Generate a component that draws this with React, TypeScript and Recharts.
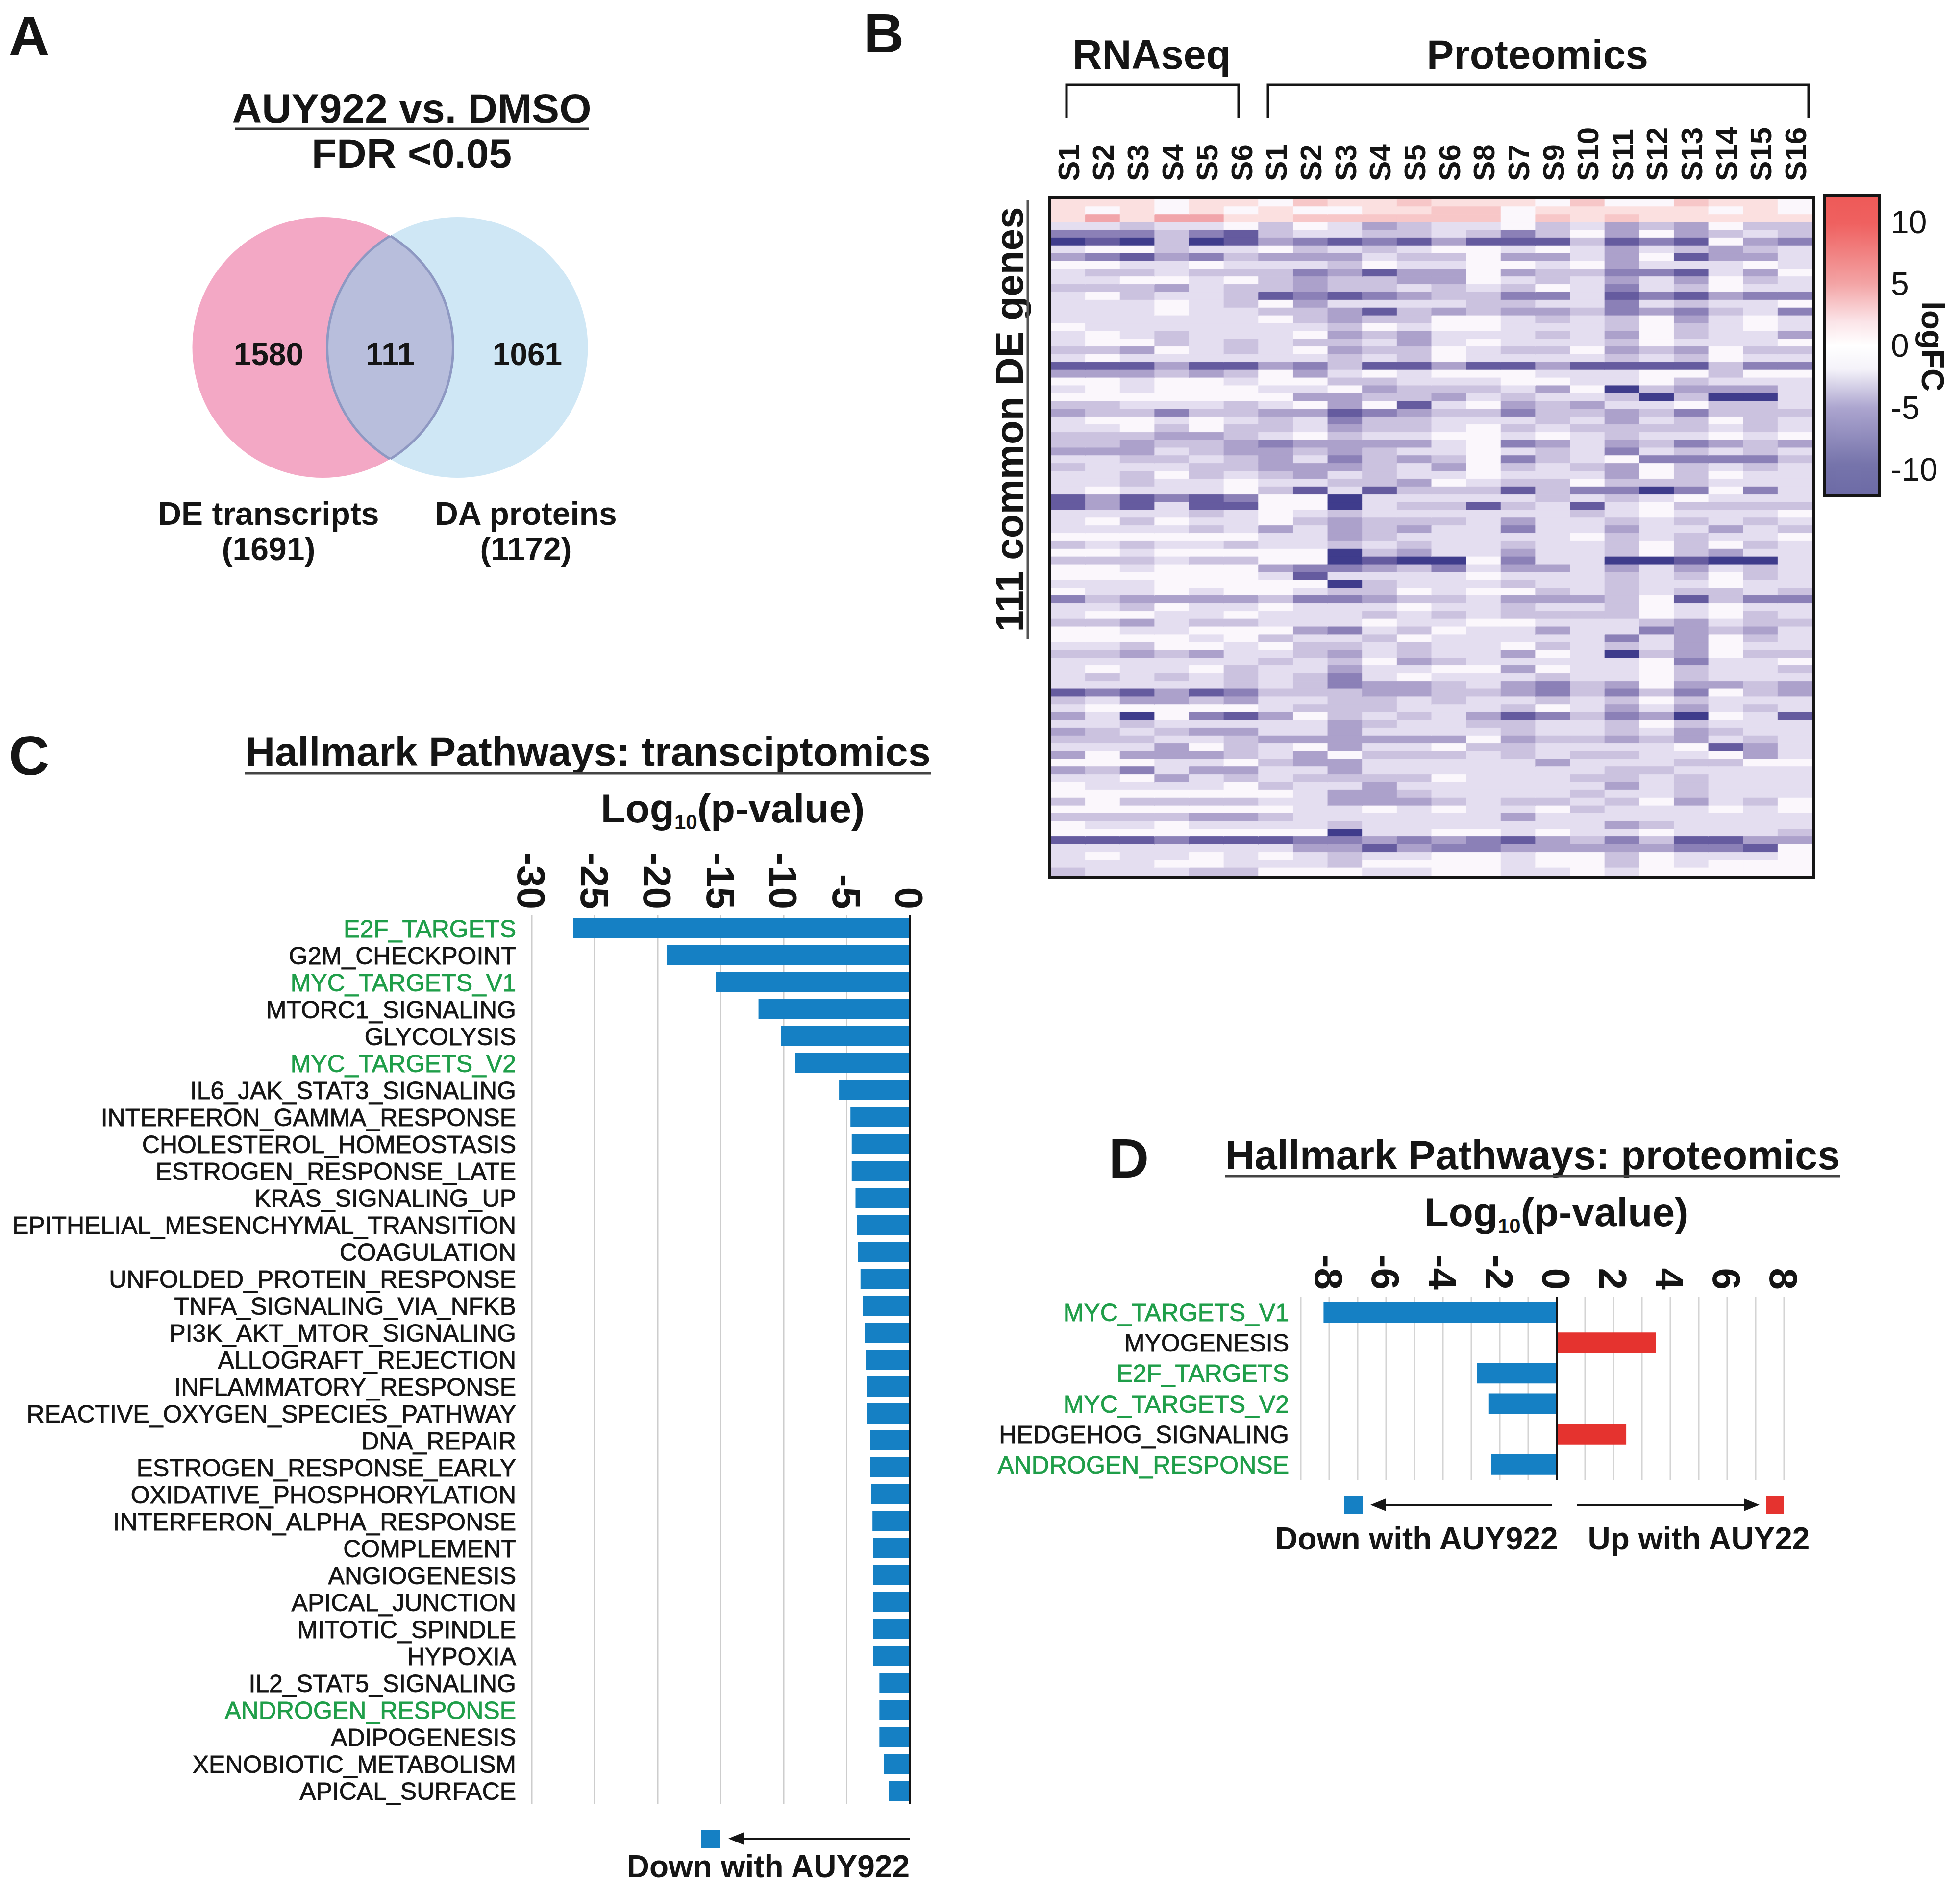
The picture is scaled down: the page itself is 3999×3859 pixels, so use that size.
import React from 'react';
import {
  BarChart,
  Bar,
  XAxis,
  YAxis,
  CartesianGrid,
  Cell,
  ReferenceLine,
  ScatterChart,
  Scatter,
} from 'recharts';

const FONT = '"Liberation Sans", Arial, Helvetica, sans-serif';
const INK = '#151515';
const GREEN = '#1f9e49';
const BLUE = '#1580c4';
const RED = '#e5332f';

// ---- panel A: venn counts
const vennSets = ['DE transcripts', 'DA proteins'];
const vennTotals = [1691, 1172];
const vennOnly = [1580, 1061];
const vennShared = 111;

// ---- panel B: heatmap (one string per gene row, one char per sample)
// 0 = ~0 logFC, 1..6 = increasingly negative, a..c = increasingly positive
const rnaCols = ['S1', 'S2', 'S3', 'S4', 'S5', 'S6'];
const protCols = ['S1', 'S2', 'S3', 'S4', 'S5', 'S6', 'S8', 'S7', 'S9', 'S10', 'S11', 'S12', 'S13', 'S14', 'S15', 'S16'];
const heatRows = [
  'aaa0aa0baabaaa0b00baa0', 'a0a0a0a00aabb0aaaaa0a0', 'acaccaabbbbbb0babaaaaa', '1121102013211021323022',
  '4442452112212420303212', '6562653454535552545034', '1002110212100101312321', '3453423331220331305331',
  '0011011120110010311101', '1221222435330322445130', '1100102322330121313021', '2223122322121201412011',
  '1021125454322441545344', '1110120311112211412110', '1110112235232332434214', '1111110232200121203101',
  '0111111120100111202101', '1012111032311121302113', '1002121221310111201110', '2230121032201220323022',
  '1011111121201111212011', '5553553425535535555244', '3332320310100011100200', '0010010022111001102111',
  '1010001103222130623331', '0000000332231211262661', '2211121030510323110221', '3224223354322422324222',
  '1001012142211121312021', '1102022132210212222121', '2223321021100101211010', '2232234333310431324323',
  '3331233232110121412121', '1122123142320421044442', '2111223332130212302121', '1120212312110111302011',
  '1121101122301220222111', '1011102515222524464041', '5354540061111121210111', '5351550061225215102222',
  '1111210121111112101110', '1020110232221311212121', '1111213132311411311312', '0000001132111110212110',
  '2121121121211211202021', '0010000062311311202311', '2221220065660411665661', '0010003443241331313121',
  '0000001511110111212021', '1110000062111211211011', '0110100122010021212212', '4233332443221333205244',
  '1120110111011211201011', '1001101112121222201021', '2231221110110011123122', '0011000341201131143231',
  '0000102112011111413021', '1120010221211021213011', '2232311231211301623022', '1111112120321111104110',
  '1011021131100301102112', '1212121241011121102111', '1111121243321342303323', '5453542223322342424023',
  '2133231122121121202111', '1000001222111201313121', '3160453021213542436015', '1121111132112211202111',
  '3212331131111211213211', '2221123333330322323121', '1113021031102211110531', '3033321302221212211031',
  '0001102331111131112200', '3241331131111111221111', '1103121222201112212111', '0111102113111111312111',
  '0000000133211112112111', '2022221133321221203120', '0000000110101102111010', '2222332111111311111111',
  '0110111121111111321111', '0000000061100101101112', '5554555443434532425533', '1111111335344333334450',
  '1011010121100100201110', '1110011120000100201000', '2111220001100110100000',
];
const levelFC: Record<string, number> = {
  '0': 0, '1': -1.5, '2': -3, '3': -4.5, '4': -6, '5': -8, '6': -10, a: 2, b: 3.5, c: 5,
};
const colorbarTicks = [-10, -5, 0, 5, 10];

// ---- panel C: transcriptomics hallmark pathways
const transPathways = [
  'E2F_TARGETS', 'G2M_CHECKPOINT', 'MYC_TARGETS_V1', 'MTORC1_SIGNALING', 'GLYCOLYSIS', 'MYC_TARGETS_V2',
  'IL6_JAK_STAT3_SIGNALING', 'INTERFERON_GAMMA_RESPONSE', 'CHOLESTEROL_HOMEOSTASIS', 'ESTROGEN_RESPONSE_LATE',
  'KRAS_SIGNALING_UP', 'EPITHELIAL_MESENCHYMAL_TRANSITION', 'COAGULATION', 'UNFOLDED_PROTEIN_RESPONSE',
  'TNFA_SIGNALING_VIA_NFKB', 'PI3K_AKT_MTOR_SIGNALING', 'ALLOGRAFT_REJECTION', 'INFLAMMATORY_RESPONSE',
  'REACTIVE_OXYGEN_SPECIES_PATHWAY', 'DNA_REPAIR', 'ESTROGEN_RESPONSE_EARLY', 'OXIDATIVE_PHOSPHORYLATION',
  'INTERFERON_ALPHA_RESPONSE', 'COMPLEMENT', 'ANGIOGENESIS', 'APICAL_JUNCTION', 'MITOTIC_SPINDLE', 'HYPOXIA',
  'IL2_STAT5_SIGNALING', 'ANDROGEN_RESPONSE', 'ADIPOGENESIS', 'XENOBIOTIC_METABOLISM', 'APICAL_SURFACE',
];
const transLogP = [
  -26.7, -19.3, -15.4, -12.0, -10.2, -9.1, -5.6, -4.7, -4.6, -4.6, -4.3, -4.2, -4.1, -3.9, -3.7, -3.55, -3.5,
  -3.4, -3.4, -3.15, -3.15, -3.05, -2.95, -2.9, -2.9, -2.9, -2.9, -2.9, -2.4, -2.4, -2.4, -2.05, -1.65,
];
const transTicks = [-30, -25, -20, -15, -10, -5, 0];

// ---- panel D: proteomics hallmark pathways
const protPathways = ['MYC_TARGETS_V1', 'MYOGENESIS', 'E2F_TARGETS', 'MYC_TARGETS_V2', 'HEDGEHOG_SIGNALING', 'ANDROGEN_RESPONSE'];
const protLogP = [-8.2, 3.5, -2.8, -2.4, 2.45, -2.3];
const protTicks = [-9, -8, -7, -6, -5, -4, -3, -2, -1, 0, 1, 2, 3, 4, 5, 6, 7, 8];

const greenPathways = ['E2F_TARGETS', 'MYC_TARGETS_V1', 'MYC_TARGETS_V2', 'ANDROGEN_RESPONSE'];

// ---- colour scale for the heatmap
const negStops: Array<[number, string]> = [
  [0, '#fbf7fc'], [1.5, '#e4def0'], [3, '#cbc2df'], [4.5, '#aca1cb'], [6, '#8b80b7'], [8, '#655b9f'], [10, '#3f3c8c'],
];
const posStops: Array<[number, string]> = [[0, '#fbf7fc'], [2, '#fbe0e0'], [3.5, '#f7c7c8'], [5, '#f1a5aa']];

const rgb = (h: string) => [1, 3, 5].map((i) => parseInt(h.slice(i, i + 2), 16));
function fcColor(v: number) {
  const stops = v >= 0 ? posStops : negStops;
  const a = Math.abs(v);
  for (let i = 1; i < stops.length; i++) {
    const [v0, c0] = stops[i - 1];
    const [v1, c1] = stops[i];
    if (a <= v1) {
      const t = (a - v0) / (v1 - v0);
      const p = rgb(c0);
      const q = rgb(c1);
      return `rgb(${p.map((x, k) => Math.round(x + (q[k] - x) * t)).join(',')})`;
    }
  }
  return stops[stops.length - 1][1];
}

// ---- layout (px)
const HX = 2144, HY = 406, HW = 1554, HH = 1381;
const VENN_W = 1100, VENN_UNIT = VENN_W / 4, VENN_R = 266;

const allCols = [...rnaCols, ...protCols];
const heatData = heatRows.map((r, i) => {
  const o: Record<string, number | string> = { row: `g${i}` };
  allCols.forEach((_, j) => { o[`c${j}`] = 1; });
  return o;
});
const vennData = vennSets.map((name, idx) => ({ name, idx, y: 0 }));
const transData = transPathways.map((name, i) => ({ name, value: transLogP[i] }));
const protData = protPathways.map((name, i) => ({ name, value: protLogP[i] }));

const VennShape = (props: any) => {
  const { cx, cy, payload } = props;
  if (payload.idx === 0) {
    return <circle cx={cx} cy={cy} r={VENN_R} fill="#f3a8c5" />;
  }
  const px = cx - VENN_UNIT;
  return (
    <g>
      <defs>
        <clipPath id="vennPink">
          <circle cx={px} cy={cy} r={VENN_R} />
        </clipPath>
        <clipPath id="vennBlue">
          <circle cx={cx} cy={cy} r={VENN_R} />
        </clipPath>
      </defs>
      <circle cx={cx} cy={cy} r={VENN_R} fill="#cfe7f5" />
      <circle cx={cx} cy={cy} r={VENN_R} fill="#b8bedc" stroke="#8e98c2" strokeWidth={5} clipPath="url(#vennPink)" />
      <circle cx={px} cy={cy} r={VENN_R} fill="none" stroke="#8e98c2" strokeWidth={5} clipPath="url(#vennBlue)" />
    </g>
  );
};

const RotTick = (props: any) => {
  const { x, y, payload, fs, every } = props;
  if (every && payload.value % every !== 0) return <g />;
  return (
    <text x={x} y={y} transform={`rotate(90 ${x} ${y})`} textAnchor="end" dy="0.36em"
      fontSize={fs} fontWeight="bold" fontFamily={FONT} fill={INK}>
      {payload.value}
    </text>
  );
};

const CatTick = (props: any) => {
  const { x, y, payload, fs } = props;
  const c = greenPathways.includes(payload.value) ? GREEN : INK;
  return (
    <text x={x} y={y} textAnchor="end" dy="0.36em" fontSize={fs} fontFamily={FONT}
      fill={c} stroke={c} strokeWidth={0.9}>
      {payload.value}
    </text>
  );
};

const T = (p: any) => (
  <text fontFamily={FONT} fontWeight="bold" fill={INK} {...p} />
);

const LogLabel = ({ x, y }: { x: number; y: number }) => (
  <text x={x} y={y} textAnchor="middle" fontFamily={FONT} fontWeight="bold" fontSize={82} fill={INK}>
    Log<tspan fontSize={42} dy={14}>10</tspan><tspan dy={-14}>(p-value)</tspan>
  </text>
);

const abs = (left: number, top: number): React.CSSProperties => ({ position: 'absolute', left, top });

export default function App() {
  const colW = HW / allCols.length;
  return (
    <div style={{ position: 'absolute', left: 0, top: 0, width: 3999, height: 3859, background: '#fff', overflow: 'hidden' }}>
      {/* A: venn */}
      <div style={abs(658 - 1.5 * VENN_UNIT, 409)}>
        <ScatterChart width={VENN_W} height={600} margin={{ top: 0, right: 0, bottom: 0, left: 0 }}>
          <XAxis type="number" dataKey="idx" domain={[-1.5, 2.5]} hide />
          <YAxis type="number" dataKey="y" domain={[-1, 1]} hide />
          <Scatter data={vennData} shape={VennShape} isAnimationActive={false} />
        </ScatterChart>
      </div>

      {/* B: heatmap */}
      <div style={abs(HX, HY)}>
        <BarChart layout="vertical" width={HW} height={HH} data={heatData}
          margin={{ top: 0, right: 0, bottom: 0, left: 0 }} barCategoryGap={0} barGap={0}>
          <XAxis type="number" domain={[0, allCols.length]} hide />
          <YAxis type="category" dataKey="row" hide />
          {allCols.map((_, j) => (
            <Bar key={j} dataKey={`c${j}`} stackId="h" isAnimationActive={false}>
              {heatRows.map((r, i) => {
                const c = fcColor(levelFC[r[j]]);
                return <Cell key={i} fill={c} stroke={c} strokeWidth={1} />;
              })}
            </Bar>
          ))}
        </BarChart>
      </div>

      {/* B: colour bar */}
      <div style={abs(3725, 402)}>
        <BarChart width={107 + 200} height={606} data={[{ name: 'logFC', range: [-12, 12] }]}
          margin={{ top: 0, right: 0, bottom: 0, left: 0 }} barCategoryGap={0}>
          <defs>
            <linearGradient id="cbGrad" x1="0" y1="0" x2="0" y2="1">
              <stop offset="0" stopColor="#ee5a58" />
              <stop offset="0.09" stopColor="#ef6160" />
              <stop offset="0.29" stopColor="#f3a3a4" />
              <stop offset="0.42" stopColor="#fbe4e8" />
              <stop offset="0.5" stopColor="#ffffff" />
              <stop offset="0.58" stopColor="#f4f2f9" />
              <stop offset="0.71" stopColor="#aca5cf" />
              <stop offset="0.9" stopColor="#7674ab" />
              <stop offset="1" stopColor="#6d6ba6" />
            </linearGradient>
          </defs>
          <XAxis type="category" dataKey="name" hide />
          <YAxis type="number" orientation="right" domain={[-12, 12]} ticks={colorbarTicks} width={200}
            axisLine={false} tickLine={false} tickSize={0} tickMargin={26}
            tick={{ fontSize: 66, fill: INK, fontFamily: FONT }} />
          <Bar dataKey="range" fill="url(#cbGrad)" isAnimationActive={false} />
        </BarChart>
      </div>

      {/* C: transcriptomics */}
      <div style={abs(0, 1690)}>
        <BarChart layout="vertical" width={1900} height={2000} data={transData}
          margin={{ top: 0, right: 44, bottom: 8, left: 0 }}>
          <CartesianGrid horizontal={false} stroke="#cdcdcd" strokeWidth={3} />
          <XAxis type="number" orientation="top" domain={[-30, 0]} ticks={transTicks} height={177}
            axisLine={false} tickLine={false} tickSize={0} tickMargin={12} tick={<RotTick fs={80} />} />
          <YAxis type="category" dataKey="name" width={1085} interval={0}
            axisLine={false} tickLine={false} tickSize={0} tickMargin={32} tick={<CatTick fs={50} />} />
          <Bar dataKey="value" fill={BLUE} barSize={41} isAnimationActive={false} />
          <ReferenceLine x={0} stroke={INK} strokeWidth={4} />
        </BarChart>
      </div>

      {/* D: proteomics */}
      <div style={abs(2000, 2480)}>
        <BarChart layout="vertical" width={1720} height={560} data={protData}
          margin={{ top: 0, right: 80, bottom: 20, left: 0 }}>
          <CartesianGrid horizontal={false} stroke="#d4d4d4" strokeWidth={3} />
          <XAxis type="number" orientation="top" domain={[-9, 8]} ticks={protTicks} height={167} interval={0}
            axisLine={false} tickLine={false} tickSize={0} tickMargin={15} tick={<RotTick fs={80} every={2} />} />
          <YAxis type="category" dataKey="name" width={654} interval={0}
            axisLine={false} tickLine={false} tickSize={0} tickMargin={24} tick={<CatTick fs={50} />} />
          <Bar dataKey="value" barSize={42} isAnimationActive={false}>
            {protData.map((d, i) => <Cell key={i} fill={d.value < 0 ? BLUE : RED} />)}
          </Bar>
          <ReferenceLine x={0} stroke={INK} strokeWidth={4} />
        </BarChart>
      </div>

      {/* static text and frames */}
      <svg width={3999} height={3859} style={{ position: 'absolute', left: 0, top: 0, pointerEvents: 'none' }}>
        {/* A */}
        <T x={18} y={112} fontSize={114}>A</T>
        <T x={840} y={250} fontSize={84} textAnchor="middle">AUY922 vs. DMSO</T>
        <line x1={479} x2={1201} y1={263} y2={263} stroke="#333" strokeWidth={5} />
        <T x={840} y={342} fontSize={84} textAnchor="middle">FDR &lt;0.05</T>
        <T x={548} y={745} fontSize={64} textAnchor="middle">{vennOnly[0]}</T>
        <T x={796} y={745} fontSize={64} textAnchor="middle">{vennShared}</T>
        <T x={1076} y={745} fontSize={64} textAnchor="middle">{vennOnly[1]}</T>
        <T x={548} y={1071} fontSize={66} textAnchor="middle">{vennSets[0]}</T>
        <T x={548} y={1143} fontSize={66} textAnchor="middle">({vennTotals[0]})</T>
        <T x={1073} y={1071} fontSize={66} textAnchor="middle">{vennSets[1]}</T>
        <T x={1073} y={1143} fontSize={66} textAnchor="middle">({vennTotals[1]})</T>

        {/* B */}
        <T x={1762} y={107} fontSize={114}>B</T>
        <T x={2350} y={140} fontSize={83} textAnchor="middle">RNAseq</T>
        <T x={3137} y={140} fontSize={83} textAnchor="middle">Proteomics</T>
        <path d="M2176,240 V173 H2527 V240" fill="none" stroke={INK} strokeWidth={5} />
        <path d="M2587,240 V173 H3690 V240" fill="none" stroke={INK} strokeWidth={5} />
        {allCols.map((c, j) => {
          const x = HX + (j + 0.5) * colW;
          return (
            <T key={j} x={x} y={370} fontSize={62} dy="0.36em" transform={`rotate(-90 ${x} 370)`}>{c}</T>
          );
        })}
        <T x={2087} y={856} fontSize={80} textAnchor="middle" transform="rotate(-90 2087 856)">111 common DE genes</T>
        <line x1={2097} x2={2097} y1={408} y2={1305} stroke="#555" strokeWidth={5} />
        <rect x={HX - 3} y={HY - 3} width={HW + 6} height={HH + 6} fill="none" stroke={INK} strokeWidth={6} />
        <rect x={3722} y={399} width={113} height={612} fill="none" stroke={INK} strokeWidth={6} />
        <T x={3944} y={707} fontSize={65} textAnchor="middle" dy="0.36em" transform="rotate(90 3944 707)">logFC</T>

        {/* C */}
        <T x={18} y={1581} fontSize={114}>C</T>
        <T x={1200} y={1563} fontSize={83} textAnchor="middle">Hallmark Pathways: transciptomics</T>
        <line x1={500} x2={1900} y1={1578} y2={1578} stroke="#444" strokeWidth={5} />
        <LogLabel x={1495} y={1678} />
        <rect x={1431} y={3735} width={38} height={36} fill={BLUE} />
        <line x1={1856} x2={1505} y1={3752} y2={3752} stroke={INK} strokeWidth={4} />
        <polygon points="1486,3752 1518,3739 1518,3765" fill={INK} />
        <T x={1856} y={3831} fontSize={64} textAnchor="end">Down with AUY922</T>

        {/* D */}
        <T x={2262} y={2403} fontSize={114}>D</T>
        <T x={3127} y={2386} fontSize={83} textAnchor="middle">Hallmark Pathways: proteomics</T>
        <line x1={2499} x2={3754} y1={2400} y2={2400} stroke="#444" strokeWidth={5} />
        <LogLabel x={3175} y={2502} />
        <rect x={2743} y={3052} width={37} height={38} fill={BLUE} />
        <line x1={3167} x2={2812} y1={3071} y2={3071} stroke={INK} strokeWidth={4} />
        <polygon points="2796,3071 2828,3058 2828,3084" fill={INK} />
        <line x1={3217} x2={3574} y1={3071} y2={3071} stroke={INK} strokeWidth={4} />
        <polygon points="3590,3071 3558,3058 3558,3084" fill={INK} />
        <rect x={3603} y={3052} width={37} height={38} fill={RED} />
        <T x={2890} y={3162} fontSize={64} textAnchor="middle">Down with AUY922</T>
        <T x={3466} y={3162} fontSize={64} textAnchor="middle">Up with AUY22</T>
      </svg>
    </div>
  );
}
